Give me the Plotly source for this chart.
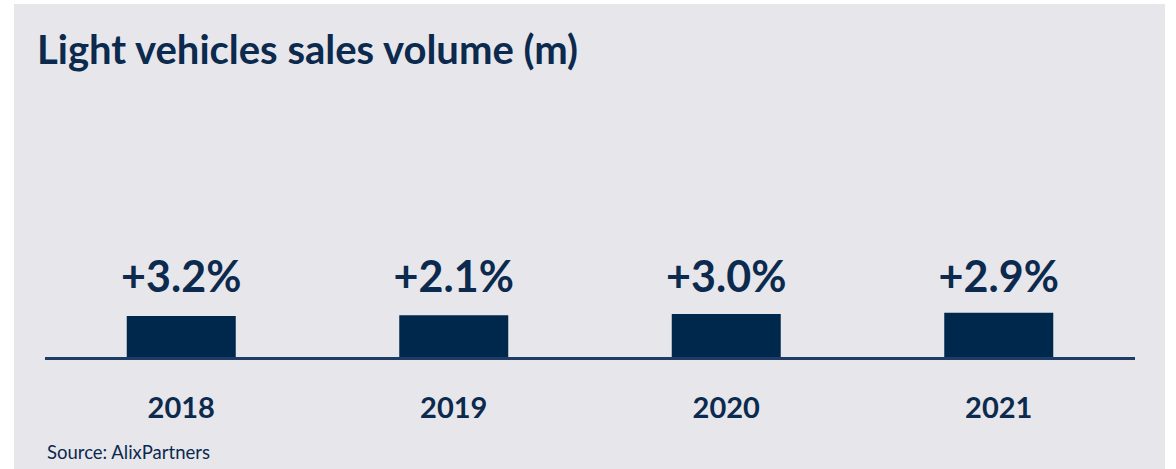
import plotly.graph_objects as go

years = ["2018", "2019", "2020", "2021"]
volumes = [96.0, 98.0, 100.9, 103.8]  # light vehicle sales, millions (estimated)
growth = ["+3.2%", "+2.1%", "+3.0%", "+2.9%"]

title_text = "Light vehicles sales volume (m)"
source_text = "Source: AlixPartners"

NAVY = "#00284D"
TEXT = "#0B2A4E"
BG = "#E7E6EB"
FONT = "Lato"

W, H = 1176, 469
L, R = 45, 41
T, B = 90, 112
plot_h = H - T - B
plot_w = W - L - R
y_max = 96.0 * plot_h / 41


def py(pix):
    return (H - B - pix) / plot_h


def px(pix):
    return (pix - L) / plot_w


label_level = py(281) * y_max

fig = go.Figure()
fig.add_trace(go.Bar(
    x=years, y=volumes, marker=dict(color=NAVY, line=dict(width=0)),
    width=0.4, hoverinfo="skip",
))
fig.add_trace(go.Scatter(
    x=years, y=[label_level] * len(years), mode="text", text=growth,
    textposition="middle center", hoverinfo="skip", cliponaxis=False,
    textfont=dict(family=FONT, size=43, color=TEXT, weight=700),
))

fig.add_annotation(x=0, y=py(452), xref="paper", yref="paper", text=source_text,
                   showarrow=False, xanchor="left", yanchor="middle",
                   font=dict(family=FONT, size=18.5, color=TEXT))

fig.add_shape(type="rect", xref="paper", yref="paper",
              x0=px(14), x1=px(1165), y0=py(470), y1=py(4),
              fillcolor=BG, line=dict(width=0), layer="below")

fig.update_layout(
    width=W, height=H,
    margin=dict(l=L, r=R, t=T, b=B),
    paper_bgcolor="white", plot_bgcolor="rgba(0,0,0,0)",
    showlegend=False,
    title=dict(text=title_text, x=37 / W, xref="container", xanchor="left",
               y=1 - 50 / H, yanchor="middle", yref="container",
               font=dict(family=FONT, size=40, color=TEXT, weight=700)),
    xaxis=dict(type="category", showline=True, linecolor="#1E3D66", linewidth=2.5, ticks="",
               showgrid=False, zeroline=False, range=[-0.5, 3.5],
               tickfont=dict(family=FONT, size=29, color=TEXT, weight=700),
               ticklabelstandoff=23),
    yaxis=dict(visible=False, range=[0, y_max], showgrid=False, zeroline=False),
    bargap=0.6,
)

fig.write_html("out.html", config={"displayModeBar": False},
               post_script="document.body.style.margin='0';")
